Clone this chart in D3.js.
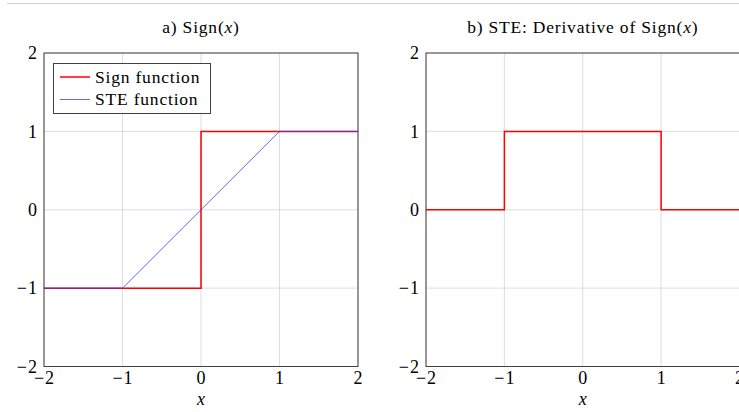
<!DOCTYPE html>
<html><head><meta charset="utf-8">
<script src="https://cdn.jsdelivr.net/npm/d3@7"></script>
<style>body{margin:0;background:#fff;overflow:hidden}text{font-family:"Liberation Serif","DejaVu Serif",serif;}</style>
</head><body>
<svg id="c" width="739" height="412"></svg>
<script>
const ticks = [-2, -1, 0, 1, 2];
const signX = [-2, 0, 0, 2];
const signY = [-1, -1, 1, 1];
const steX = [-2, -1, 1, 2];
const steY = [-1, -1, 1, 1];
const derivX = [-2, -1, -1, 1, 1, 2];
const derivY = [0, 0, 1, 1, 0, 0];
const legendLabels = ["Sign function", "STE function"];

const svg = d3.select("#c");
svg.append("line").attr("x1", 7).attr("x2", 739).attr("y1", 3.5).attr("y2", 3.5)
  .attr("stroke", "#d0d0d0").attr("stroke-width", 1);

const fmt = v => v < 0 ? "\u2212" + Math.abs(v) : String(v);

function panel(x0, x1, title, series) {
  const x = d3.scaleLinear().domain([-2, 2]).range([x0, x1]);
  const y = d3.scaleLinear().domain([-2, 2]).range([366.5, 53]);
  const g = svg.append("g");
  g.selectAll(".gx").data(ticks).enter().append("line")
    .attr("x1", d => x(d)).attr("x2", d => x(d)).attr("y1", y(-2)).attr("y2", y(2))
    .attr("stroke", "#c8c8c8").attr("stroke-width", 0.6);
  g.selectAll(".gy").data(ticks).enter().append("line")
    .attr("x1", x(-2)).attr("x2", x(2)).attr("y1", d => y(d)).attr("y2", d => y(d))
    .attr("stroke", "#c8c8c8").attr("stroke-width", 0.6);
  const ax = d3.axisBottom(x).tickValues(ticks).tickFormat(fmt).tickSize(0).tickPadding(5);
  const axg = g.append("g").attr("transform", `translate(0,${y(-2)})`).call(ax);
  axg.select(".domain").remove();
  axg.attr("font-size", 18).attr("font-family", '"Liberation Serif",serif');
  axg.selectAll("text").attr("fill", "#000").attr("dy", "0.71em").style("letter-spacing", "1px");
  const ay = d3.axisLeft(y).tickValues(ticks).tickFormat(fmt).tickSize(0).tickPadding(6);
  const ayg = g.append("g").attr("transform", `translate(${x(-2)},0)`).call(ay);
  ayg.select(".domain").remove();
  ayg.attr("font-size", 18).attr("font-family", '"Liberation Serif",serif');
  ayg.selectAll("text").attr("fill", "#000").style("letter-spacing", "1px");
  series.forEach(s => {
    const pts = s.xs.map((v, i) => [x(v), y(s.ys[i])]);
    g.append("path").attr("d", d3.line()(pts)).attr("fill", "none")
      .attr("stroke", s.color).attr("stroke-width", s.w);
  });
  g.append("rect").attr("x", x(-2)).attr("y", y(2)).attr("width", x(2) - x(-2)).attr("height", y(-2) - y(2))
    .attr("fill", "none").attr("stroke", "#404040").attr("stroke-width", 1);
  g.append("text").attr("x", (x(-2) + x(2)) / 2).attr("y", 33).attr("text-anchor", "middle")
    .attr("font-size", 17.5).style("letter-spacing", "0.8px").html(title);
  g.append("text").attr("x", x(0)).attr("y", 405).attr("text-anchor", "middle")
    .attr("font-size", 18).attr("font-style", "italic").text("x");
  return {x, y, g};
}

const A = panel(44, 358, 'a) Sign(<tspan font-style="italic">x</tspan>)', [
  {xs: signX, ys: signY, color: "#ff0000", w: 1.5},
  {xs: steX, ys: steY, color: "#3b3bff", w: 0.8}
]);
panel(426, 739.5, 'b) STE: Derivative of Sign(<tspan font-style="italic">x</tspan>)', [
  {xs: derivX, ys: derivY, color: "#ff0000", w: 1.5}
]);

const lg = A.g.append("g");
lg.append("rect").attr("x", 53.5).attr("y", 63.5).attr("width", 157).attr("height", 50)
  .attr("fill", "#fff").attr("stroke", "#404040").attr("stroke-width", 1);
const lcolors = ["#ff0000", "#3b3bff"], lw = [1.5, 0.8];
legendLabels.forEach((t, i) => {
  const cy = 77 + i * 22.5;
  lg.append("line").attr("x1", 60).attr("x2", 90).attr("y1", cy).attr("y2", cy)
    .attr("stroke", lcolors[i]).attr("stroke-width", lw[i]);
  lg.append("text").attr("x", 95).attr("y", cy + 5.5).attr("font-size", 17.5)
    .style("letter-spacing", "0.8px").text(t);
});
</script>
</body></html>
